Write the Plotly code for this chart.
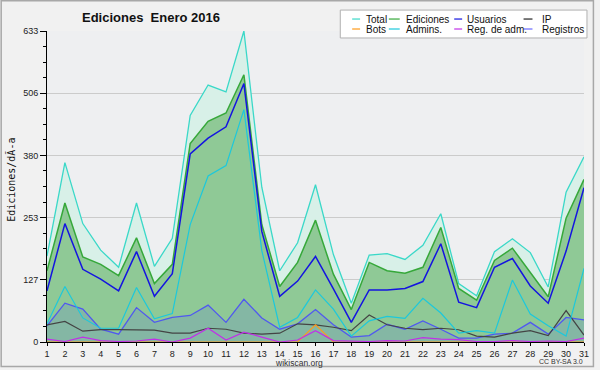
import plotly.graph_objects as go

days = list(range(1, 32))
total = [175, 365, 241, 187, 152, 283, 154, 211, 461, 523, 509, 633, 315, 145, 202, 320,
         178, 79, 177, 180, 168, 197, 261, 119, 94, 184, 210, 182, 112, 305, 377]
ediciones = [145, 283, 173, 158, 135, 212, 119, 158, 404, 449, 466, 544, 239, 113, 162, 248,
             138, 66, 162, 145, 140, 152, 233, 109, 85, 166, 191, 141, 92, 252, 331]
usuarios = [104, 241, 148, 128, 104, 184, 93, 139, 383, 415, 438, 526, 225, 93, 124, 174,
            108, 40, 106, 106, 109, 123, 200, 81, 70, 152, 170, 114, 79, 185, 314]
ip = [35, 42, 22, 25, 25, 25, 24, 18, 18, 28, 26, 18, 16, 18, 37, 35,
      30, 23, 55, 35, 28, 25, 28, 25, 12, 10, 18, 23, 13, 64, 14]
bots = [0, 0, 0, 0, 0, 0, 0, 0, 0, 0, 0, 0, 0, 0, 0, 35,
        0, 0, 0, 0, 0, 0, 0, 0, 0, 0, 0, 0, 0, 0, 0]
admins = [37, 113, 49, 28, 28, 111, 47, 58, 239, 338, 359, 473, 186, 30, 50, 106,
          67, 12, 43, 52, 48, 89, 59, 18, 23, 18, 126, 57, 33, 12, 150]
reg_adm = [6, 1, 10, 3, 1, 2, 6, 0, 8, 28, 4, 20, 10, 0, 4, 23,
           3, 2, 1, 3, 2, 9, 6, 5, 1, 1, 3, 1, 2, 1, 8]
registros = [33, 79, 67, 26, 16, 70, 40, 50, 54, 75, 40, 87, 49, 26, 37, 66,
             35, 10, 13, 36, 26, 43, 26, 8, 8, 16, 18, 40, 16, 50, 45]

ytick_vals = [0, 126.6, 253.2, 379.8, 506.4, 633]
ytick_text = ["0", "127", "253", "380", "506", "633"]

W, H = 600, 370
L, R, T, B = 47, 589, 31, 343  # plot area in pixels


def px(x, y):
    return (x - L) / (R - L), (B - y) / (B - T)


FONT = "Liberation Sans, Arial, sans-serif"

fig = go.Figure()

series = [
    ("Total", total, "#3ad8c8", 1.3, "tozeroy", "rgb(216,240,232)"),
    ("Ediciones", ediciones, "#36a83a", 1.5, "tozeroy", "rgb(143,201,150)"),
    ("Registros", registros, "#5058f0", 1.3, "tozeroy", "rgba(70,80,255,0.14)"),
    ("Usuarios", usuarios, "#1414e0", 1.5, None, None),
    ("IP", ip, "#444444", 1.2, None, None),
    ("Bots", bots, "#ff9a1a", 1.1, None, None),
    ("Admins.", admins, "#1cc8dc", 1.2, None, None),
    ("Reg. de adm.", reg_adm, "#c030e8", 1.2, None, None),
]
for name, vals, col, w, fill, fc in series:
    kw = {}
    if fill:
        kw = dict(fill=fill, fillcolor=fc)
    fig.add_trace(go.Scatter(x=days, y=vals, name=name, mode="lines",
                             line=dict(color=col, width=w), showlegend=False, **kw))

shapes = []
annotations = []

# outer frame
x0, y0 = px(0.75, 0.75)
x1, y1 = px(598.5, 367.5)
shapes.append(dict(type="rect", xref="paper", yref="paper", x0=x0, y0=y1, x1=x1, y1=y0,
                   line=dict(color="#a8a8a8", width=1.5), layer="below"))

# legend box
lx0, ly0 = px(343, 10)
lx1, ly1 = px(592, 38)
shapes.append(dict(type="rect", xref="paper", yref="paper", x0=lx0, y0=ly1, x1=lx1, y1=ly0,
                   fillcolor="white", line=dict(color="#b0b0b0", width=1), layer="above"))

legend_items = [
    ("Total", "#3ad8c8", 355, 363, 367, 19),
    ("Ediciones", "#36a83a", 392, 403, 407, 19),
    ("Usuarios", "#1414e0", 458, 466, 469, 19),
    ("IP", "#222222", 528, 537, 545, 19),
    ("Bots", "#ff9a1a", 355, 363, 367, 29),
    ("Admins.", "#1cc8dc", 392, 403, 407, 29),
    ("Reg. de adm.", "#c030e8", 458, 466, 469, 29),
    ("Registros", "#6a6aff", 528, 537, 545, 29),
]
for name, col, sx0, sx1, tx, ty in legend_items:
    a, b = px(sx0, ty)
    c, _ = px(sx1, ty)
    shapes.append(dict(type="line", xref="paper", yref="paper", x0=a, y0=b, x1=c, y1=b,
                       line=dict(color=col, width=1.2), layer="above"))
    t, _ = px(tx, ty)
    annotations.append(dict(text=name, xref="paper", yref="paper", x=t, y=b,
                            xanchor="left", yanchor="middle", showarrow=False,
                            font=dict(family=FONT, size=10, color="#111")))

# y-axis title
ax, ay = px(10, 180)
annotations.append(dict(text="Ediciones/dÃ-a", xref="paper", yref="paper", x=ax, y=ay,
                        textangle=-90, showarrow=False, xanchor="center", yanchor="middle",
                        font=dict(family="DejaVu Sans Mono, monospace", size=10, color="#111")))
# footer
fx, fy = px(301, 364.5)
annotations.append(dict(text="wikiscan.org", xref="paper", yref="paper", x=fx, y=fy,
                        showarrow=False, xanchor="center", yanchor="middle",
                        font=dict(family=FONT, size=8.5, color="#333")))
cx, cy = px(590, 363)
annotations.append(dict(text="CC BY-SA 3.0", xref="paper", yref="paper", x=cx, y=cy,
                        showarrow=False, xanchor="right", yanchor="middle",
                        font=dict(family=FONT, size=7, color="#333")))

fig.update_layout(
    width=W, height=H,
    margin=dict(l=L, r=W - R, t=T, b=H - B, pad=0),
    paper_bgcolor="#f1f1f1",
    plot_bgcolor="#eeeff1",
    title=dict(text="<b>Ediciones  Enero 2016</b>", x=151 / W, xref="container",
               xanchor="center", y=1 - 17 / H, yref="container", yanchor="middle",
               font=dict(family=FONT, size=13, color="#111")),
    shapes=shapes,
    annotations=annotations,
    showlegend=False,
    xaxis=dict(range=[1, 31], tickmode="array", tickvals=days,
               ticktext=[str(d) for d in days], ticks="outside", ticklen=3,
               tickcolor="black", showline=True, linecolor="black", linewidth=1,
               showgrid=False, zeroline=False,
               tickfont=dict(family=FONT, size=9, color="#222")),
    yaxis=dict(range=[0, 633], tickmode="array", tickvals=ytick_vals, ticktext=ytick_text,
               ticks="outside", ticklen=6, tickcolor="black", showline=True,
               linecolor="black", linewidth=1, showgrid=True, gridcolor="#cbcbcb",
               gridwidth=1, zeroline=False,
               minor=dict(tick0=0, dtick=633 / 20, ticklen=3, ticks="outside",
                          tickcolor="black", showgrid=False),
               tickfont=dict(family=FONT, size=9, color="#222")),
)

fig.write_html("out.html", config={"displayModeBar": False},
               post_script="document.body.style.margin='0';"
               "document.body.style.overflow='hidden';")
